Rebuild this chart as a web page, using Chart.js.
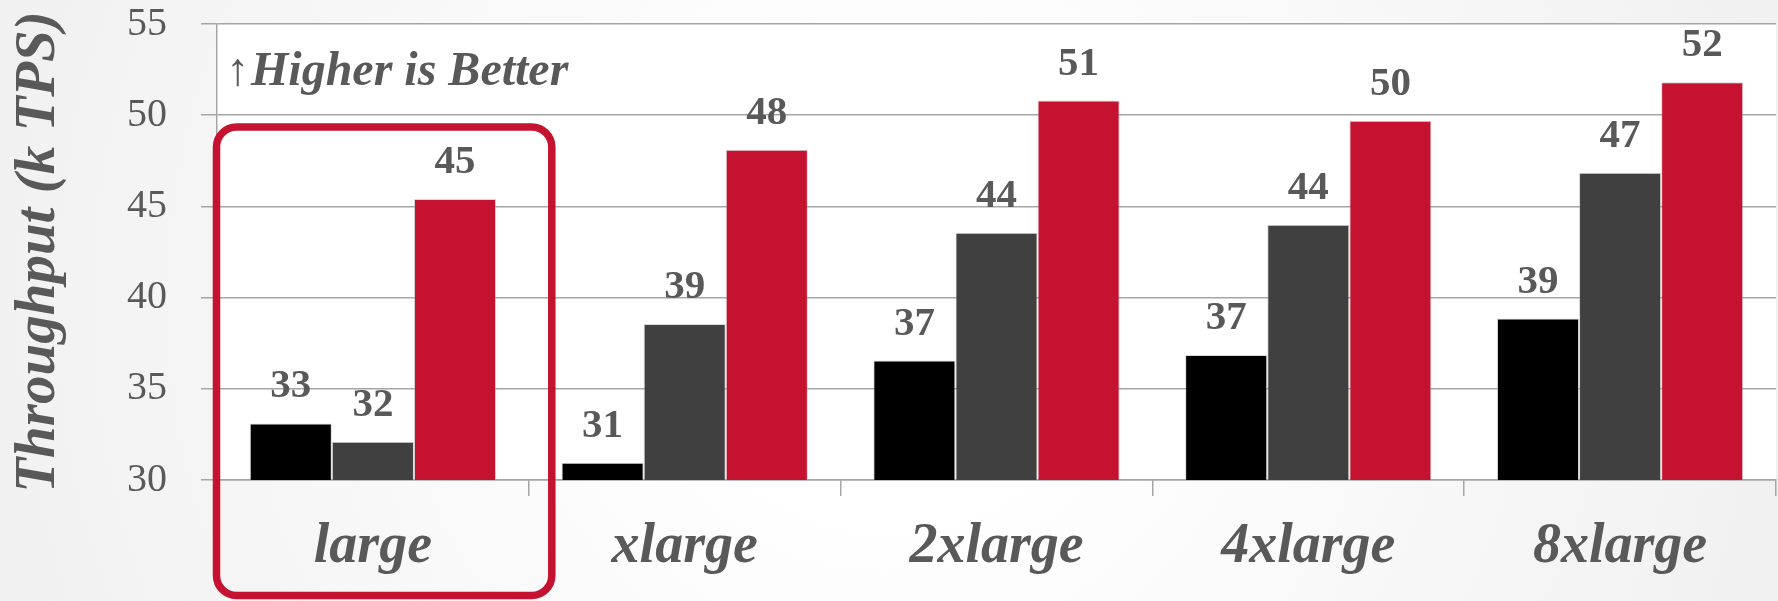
<!DOCTYPE html>
<html>
<head>
<meta charset="utf-8">
<script src="https://cdn.jsdelivr.net/npm/chart.js@4.4.1/dist/chart.umd.min.js"></script>
<style>
  html, body { margin: 0; padding: 0; background: #ffffff; }
  #wrap { width: 1778px; height: 601px; position: relative; }
</style>
</head>
<body>
<div id="wrap"><canvas id="c" width="1778" height="601"></canvas></div>
<script>
// ---- data ----
const categories = ['large', 'xlarge', '2xlarge', '4xlarge', '8xlarge'];
const seriesNames = ['Series 1', 'Series 2', 'Series 3'];
const series1 = [33.1, 30.95, 36.55, 36.85, 38.85];
const series2 = [32.1, 38.55, 43.55, 44.0, 46.85];
const series3 = [45.4, 48.1, 50.8, 49.7, 51.8];
const yMin = 30, yMax = 55, yStep = 5;
const yTitle = 'Throughput (k TPS)';
const noteArrow = '\u2191';
const noteText = 'Higher is Better';
const highlightIndex = 0;

const SERIF = '"Liberation Serif", "DejaVu Serif", serif';
const TEXT = '#595959';
const GRID = '#a6a6a6';
const colors = ['#000000', '#404040', '#c41230'];

const bgPlugin = {
  id: 'bg',
  beforeDraw(chart) {
    const { ctx, width, height, chartArea } = chart;
    ctx.save();
    const g = ctx.createRadialGradient(width / 2, height / 2, 200, width / 2, height / 2, 1000);
    g.addColorStop(0, '#ffffff');
    g.addColorStop(1, '#efefef');
    ctx.fillStyle = g;
    ctx.fillRect(0, 0, width, height);
    ctx.fillStyle = '#ffffff';
    ctx.fillRect(chartArea.left, chartArea.top, chartArea.right - chartArea.left, chartArea.bottom - chartArea.top);
    ctx.restore();
  }
};

const valueLabels = {
  id: 'valueLabels',
  afterDatasetsDraw(chart) {
    const { ctx } = chart;
    ctx.save();
    ctx.font = 'bold 41px ' + SERIF;
    ctx.fillStyle = TEXT;
    ctx.textAlign = 'center';
    ctx.textBaseline = 'alphabetic';
    chart.data.datasets.forEach((ds, di) => {
      const meta = chart.getDatasetMeta(di);
      meta.data.forEach((bar, i) => {
        ctx.fillText(String(Math.round(ds.data[i])), bar.x, bar.y - 26);
      });
    });
    ctx.restore();
  }
};

const annotations = {
  id: 'annotations',
  afterDraw(chart) {
    const { ctx, chartArea } = chart;
    const xs = chart.scales.x;
    const ys = chart.scales.y;
    ctx.save();
    // note text
    ctx.fillStyle = TEXT;
    ctx.textBaseline = 'alphabetic';
    ctx.textAlign = 'left';
    ctx.font = '46px ' + SERIF;
    const ax = chartArea.left + 9;
    const by = ys.getPixelForValue(yMax) + 61;
    ctx.fillText(noteArrow, ax, by);
    const aw = ctx.measureText(noteArrow).width;
    ctx.font = 'italic bold 48px ' + SERIF;
    ctx.fillText(noteText, ax + aw + 2, by);

    // highlight box around one category
    const half = (xs.getPixelForValue(1) - xs.getPixelForValue(0)) / 2;
    const cx = xs.getPixelForValue(highlightIndex);
    const left = cx - half - 0.5;
    const right = cx + half + 23;
    const top = ys.getPixelForValue(49.35);
    const bottom = chart.height - 5.5;
    const r = 20;
    ctx.strokeStyle = colors[2];
    ctx.lineWidth = 7.5;
    ctx.beginPath();
    ctx.moveTo(left + r, top);
    ctx.lineTo(right - r, top);
    ctx.arcTo(right, top, right, top + r, r);
    ctx.lineTo(right, bottom - r);
    ctx.arcTo(right, bottom, right - r, bottom, r);
    ctx.lineTo(left + r, bottom);
    ctx.arcTo(left, bottom, left, bottom - r, r);
    ctx.lineTo(left, top + r);
    ctx.arcTo(left, top, left + r, top, r);
    ctx.closePath();
    ctx.stroke();
    ctx.restore();
  }
};

new Chart(document.getElementById('c'), {
  type: 'bar',
  data: {
    labels: categories,
    datasets: [series1, series2, series3].map((d, i) => ({
      label: seriesNames[i],
      data: d,
      backgroundColor: colors[i],
      borderColor: 'rgba(170,170,170,0.45)',
      borderWidth: 1,
      categoryPercentage: 0.79,
      barPercentage: 1.0
    }))
  },
  options: {
    responsive: false,
    animation: false,
    devicePixelRatio: 1,
    layout: { padding: { top: 0, right: 2, left: 0, bottom: 0 } },
    plugins: { legend: { display: false }, tooltip: { enabled: false } },
    scales: {
      x: {
        offset: true,
        grid: { offset: true, drawOnChartArea: false, drawTicks: true, tickLength: 16, color: GRID, lineWidth: 1.5 },
        border: { color: GRID, width: 1.5 },
        ticks: { font: { family: SERIF, size: 56, style: 'italic', weight: 'bold' }, color: TEXT, padding: 18 },
        afterFit(s) { s.height = 121; }
      },
      y: {
        min: yMin, max: yMax,
        ticks: { stepSize: yStep, font: { family: SERIF, size: 40 }, color: TEXT, padding: 34 },
        grid: { color: GRID, lineWidth: 1.5, tickLength: 16 },
        border: { color: GRID, width: 1.5 },
        title: { display: true, text: yTitle, color: TEXT, font: { family: SERIF, size: 57, style: 'italic', weight: 'bold' }, padding: { top: 5, bottom: 0 } },
        afterFit(s) { s.width = 217; s.paddingTop = 24; s.paddingBottom = 0; }
      }
    }
  },
  plugins: [bgPlugin, valueLabels, annotations]
});
</script>
</body>
</html>
